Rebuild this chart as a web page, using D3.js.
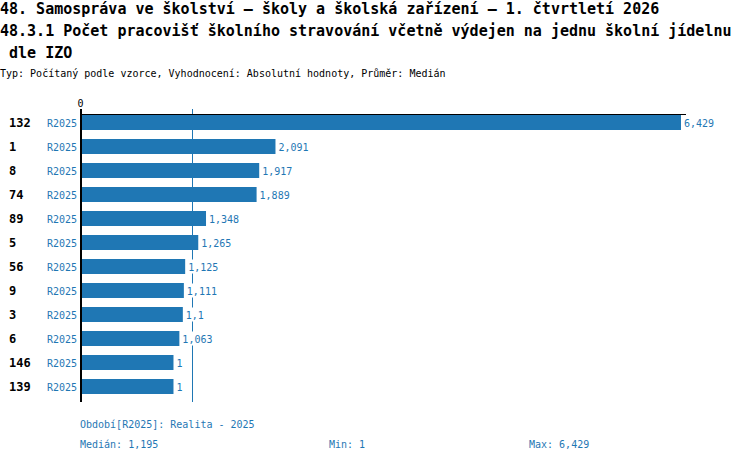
<!DOCTYPE html>
<html>
<head>
<meta charset="utf-8">
<script src="https://cdn.jsdelivr.net/npm/d3@7"></script>
<style>
  html, body { margin: 0; padding: 0; background: #fff; }
  svg { display: block; }
  text { font-family: "DejaVu Sans Mono", "Liberation Mono", monospace; }
</style>
</head>
<body>
<svg id="chart" width="750" height="462"></svg>
<script>
// ---- data ----
const titleLines = [
  "48. Samospráva ve školství – školy a školská zařízení – 1. čtvrtletí 2026",
  "48.3.1 Počet pracovišť školního stravování včetně výdejen na jednu školní jídelnu",
  " dle IZO"
];
const subtitle = "Typ: Počítaný podle vzorce, Vyhodnocení: Absolutní hodnoty, Průměr: Medián";
const categories = ["132", "1", "8", "74", "89", "5", "56", "9", "3", "6", "146", "139"];
const seriesName = "R2025";
const values = [6429, 2091, 1917, 1889, 1348, 1265, 1125, 1111, 1100, 1063, 1000, 1000];
const periodLabel = "Období[R2025]: Realita - 2025";
const axisTicks = [0];

// ---- format (mimic source: thousands comma, trailing zeros stripped) ----
function fmt(v) {
  let s = d3.format(",")(v);
  if (s.includes(",")) s = s.replace(/0+$/, "").replace(/,$/, "");
  return s;
}

const blue = "#1f77b4";
const svg = d3.select("#chart");

// titles
svg.selectAll("text.title").data(titleLines).enter().append("text")
  .attr("class", "title")
  .attr("x", 0)
  .attr("y", (d, i) => 14 + i * 22)
  .attr("font-size", 15).attr("font-weight", "bold").attr("fill", "#000")
  .attr("xml:space", "preserve").style("white-space", "pre")
  .text(d => d);

svg.append("text").attr("x", 0).attr("y", 77)
  .attr("font-size", 10).attr("fill", "#000").text(subtitle);

// scales
const x = d3.scaleLinear().domain([0, d3.max(values)]).range([80, 681]);
const y = d3.scaleBand().domain(d3.range(categories.length))
  .range([110.5, 398.5]).paddingInner(0.375).paddingOuter(0.1875);

const med = d3.median(values);

// median line (behind bars)
svg.append("line")
  .attr("x1", Math.round(x(med)) + 0.5).attr("x2", Math.round(x(med)) + 0.5)
  .attr("y1", 109).attr("y2", 402)
  .attr("stroke", blue).attr("stroke-width", 1);

// bars
svg.selectAll("rect.bar").data(values).enter().append("rect")
  .attr("class", "bar")
  .attr("x", x(0))
  .attr("y", (d, i) => y(i))
  .attr("width", d => x(d) - x(0))
  .attr("height", y.bandwidth())
  .attr("fill", blue);

// top axis
const axisG = svg.append("g").attr("transform", "translate(0,114.5)");
axisG.call(d3.axisTop(x).tickValues(axisTicks).tickSize(0).tickFormat(d3.format("d")));
axisG.select(".domain").remove();
axisG.selectAll("text").attr("font-size", 10).attr("fill", "#000")
  .attr("font-family", "DejaVu Sans Mono").attr("dy", "-0.45em");
axisG.append("line").attr("x1", 80).attr("x2", 686).attr("y1", 0).attr("y2", 0)
  .attr("stroke", "#000").attr("stroke-width", 1);

// left axis line
svg.append("line").attr("x1", 81).attr("x2", 81).attr("y1", 109).attr("y2", 402)
  .attr("stroke", "#000").attr("stroke-width", 2);

// category labels
svg.selectAll("text.cat").data(categories).enter().append("text")
  .attr("class", "cat")
  .attr("x", 9)
  .attr("y", (d, i) => y(i) + y.bandwidth() / 2 + 4.5)
  .attr("font-size", 12).attr("font-weight", "bold").attr("fill", "#000")
  .text(d => d);

// series labels
svg.selectAll("text.ser").data(categories).enter().append("text")
  .attr("class", "ser")
  .attr("x", 77)
  .attr("y", (d, i) => y(i) + y.bandwidth() / 2 + 4)
  .attr("text-anchor", "end")
  .attr("font-size", 10).attr("fill", blue)
  .text(seriesName);

// value labels with white background
const valG = svg.selectAll("g.val").data(values).enter().append("g").attr("class", "val");
const valBg = valG.append("rect").attr("fill", "#fff");
const valTx = valG.append("text")
  .attr("x", d => x(d) + 3)
  .attr("y", (d, i) => y(i) + y.bandwidth() / 2 + 4)
  .attr("font-size", 10).attr("fill", blue)
  .text(d => fmt(d));
valTx.each(function(d, i) {
  const w = this.getComputedTextLength();
  d3.select(this.parentNode).select("rect")
    .attr("x", x(d) + 2).attr("width", w + 2)
    .attr("y", y(i) + y.bandwidth() / 2 - 7).attr("height", 14);
});

// footer
svg.append("text").attr("x", 80).attr("y", 428)
  .attr("font-size", 10).attr("fill", blue).text(periodLabel);
svg.append("text").attr("x", 80).attr("y", 448)
  .attr("font-size", 10).attr("fill", blue).text("Medián: " + fmt(med));
svg.append("text").attr("x", 329).attr("y", 448)
  .attr("font-size", 10).attr("fill", blue).text("Min: " + fmt(d3.min(values)));
svg.append("text").attr("x", 529).attr("y", 448)
  .attr("font-size", 10).attr("fill", blue).text("Max: " + fmt(d3.max(values)));
</script>
</body>
</html>
